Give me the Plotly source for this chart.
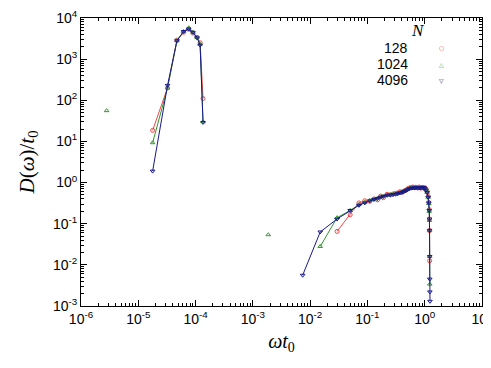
import plotly.graph_objects as go

# omega*t0 values (None separates the low-frequency peak from the main band)
w_peak = [1.78e-5, 3.24e-5, 4.73e-5, 6.17e-5, 7.59e-5, 9.0e-5, 1.06e-4, 1.20e-4, 1.35e-4]

d128_peak = [18.6, 200, 2900, 4500, 5300, 4300, 3400, 2500, 110]
d1024_peak = [9.3, 200, 2800, 4700, 5800, 4500, 3400, 2300, 30]
d4096_peak = [1.9, 230, 2800, 4700, 5400, 4500, 3300, 2200, 29]

# isolated N=1024 points
w1024_iso = [2.8e-6, 1.86e-3]
d1024_iso = [56, 0.054]

w128_band = [0.0295, 0.050, 0.071, 0.09, 0.11, 0.13, 0.15, 0.17, 0.19, 0.22, 0.25, 0.28,
             0.31, 0.34, 0.37, 0.40, 0.43, 0.46, 0.50, 0.54, 0.58, 0.62, 0.66, 0.70,
             0.75, 0.80, 0.85, 0.90, 0.95, 1.00, 1.05, 1.10, 1.15, 1.18, 1.20, 1.21,
             1.215, 1.22]
d128_band = [0.065, 0.165, 0.32, 0.36, 0.35, 0.40, 0.38, 0.47, 0.43, 0.52, 0.50, 0.53,
             0.55, 0.56, 0.60, 0.58, 0.62, 0.64, 0.70, 0.74, 0.76, 0.78, 0.75, 0.77,
             0.74, 0.78, 0.73, 0.76, 0.74, 0.75, 0.70, 0.62, 0.46, 0.33, 0.22, 0.13,
             0.068, 0.0126]

w1024_band = [0.015, 0.0295, 0.050, 0.071, 0.09, 0.11, 0.13, 0.15, 0.17, 0.19, 0.22, 0.25,
              0.28, 0.31, 0.34, 0.37, 0.40, 0.43, 0.46, 0.50, 0.54, 0.58, 0.62, 0.66,
              0.70, 0.75, 0.80, 0.85, 0.90, 0.95, 1.00, 1.05, 1.10, 1.15, 1.18, 1.20,
              1.21, 1.215, 1.22, 1.225]
d1024_band = [0.028, 0.14, 0.21, 0.29, 0.33, 0.37, 0.39, 0.42, 0.45, 0.47, 0.50, 0.51,
              0.52, 0.53, 0.55, 0.57, 0.59, 0.61, 0.64, 0.68, 0.72, 0.74, 0.75, 0.75,
              0.76, 0.75, 0.76, 0.76, 0.77, 0.76, 0.74, 0.67, 0.58, 0.44, 0.31, 0.20,
              0.12, 0.068, 0.016, 0.0034]

w4096_band = [0.0074, 0.015, 0.0295, 0.050, 0.071, 0.09, 0.11, 0.13, 0.15, 0.17, 0.19, 0.22,
              0.25, 0.28, 0.31, 0.34, 0.37, 0.40, 0.43, 0.46, 0.50, 0.54, 0.58, 0.62,
              0.66, 0.70, 0.75, 0.80, 0.85, 0.90, 0.95, 1.00, 1.05, 1.10, 1.15, 1.18,
              1.20, 1.21, 1.215, 1.22, 1.225, 1.23, 1.235]
d4096_band = [0.0056, 0.063, 0.13, 0.21, 0.28, 0.32, 0.36, 0.39, 0.41, 0.44, 0.46, 0.49,
              0.50, 0.51, 0.52, 0.54, 0.56, 0.58, 0.60, 0.63, 0.67, 0.71, 0.73, 0.74,
              0.74, 0.75, 0.74, 0.74, 0.75, 0.75, 0.76, 0.73, 0.66, 0.57, 0.44, 0.32,
              0.21, 0.13, 0.069, 0.016, 0.0045, 0.0022, 0.0013]

x_exponents = [-6, -5, -4, -3, -2, -1, 0, 1]
y_exponents = [-3, -2, -1, 0, 1, 2, 3, 4]

series = [
    ("128", w_peak + [None] + w128_band, d128_peak + [None] + d128_band,
     "rgb(240,70,70)", "circle-open", "○"),
    ("1024", w_peak + [None] + w1024_band, d1024_peak + [None] + d1024_band,
     "rgb(50,150,50)", "triangle-up-open", "△"),
    ("4096", w_peak + [None] + w4096_band, d4096_peak + [None] + d4096_band,
     "rgb(25,25,140)", "triangle-down-open", "▽"),
]

fig = go.Figure()
for name, xs, ys, col, sym, _ in series:
    fig.add_trace(go.Scatter(x=xs, y=ys, mode="lines+markers", name=name,
                             line=dict(color=col, width=1),
                             marker=dict(symbol=sym, size=4, color=col, line=dict(width=1, color=col))))
fig.add_trace(go.Scatter(x=w1024_iso, y=d1024_iso, mode="markers",
                         marker=dict(symbol="triangle-up-open", size=4, color="rgb(50,150,50)",
                                     line=dict(width=1, color="rgb(50,150,50)"))))


def power_labels(exps):
    return [10.0 ** e for e in exps], ["10<sup>%d</sup>" % e for e in exps]


axis_common = dict(type="log", showgrid=False, zeroline=False, automargin=False,
                   ticklabeloverflow="allow",
                   showline=True, linecolor="black", linewidth=1, mirror="allticks",
                   ticks="inside", ticklen=6, tickcolor="black",
                   minor=dict(ticks="inside", ticklen=3, tickcolor="black", showgrid=False,
                              dtick="D1"),
                   tickfont=dict(family="Liberation Sans, Arial", size=14, color="black"))

xv, xt = power_labels(x_exponents)
yv, yt = power_labels(y_exponents)
fig.update_xaxes(range=[-6, 1], tickvals=xv, ticktext=xt, **axis_common,
                 title=dict(text="<i>ωt</i><sub>0</sub>", standoff=8,
                            font=dict(family="Liberation Serif, serif", size=20, color="black")))
fig.update_yaxes(range=[-3, 4], tickvals=yv, ticktext=yt, **axis_common,
                 title=dict(text="<i>D</i>(<i>ω</i>)/<i>t</i><sub>0</sub>", standoff=12,
                            font=dict(family="Liberation Serif, serif", size=21, color="black")))

# gnuplot-style key: label on the left, symbol on the right
fig.add_annotation(x=0.840, y=0.955, xref="paper", yref="paper", text="<i>N</i>", showarrow=False,
                   xanchor="center", yanchor="middle",
                   font=dict(family="Liberation Serif, serif", size=17, color="black"))
for i, (name, _, _, col, _, glyph) in enumerate(series):
    yy = 0.896 - i * 0.056
    fig.add_annotation(x=0.820, y=yy, xref="paper", yref="paper", text=name, showarrow=False,
                       xanchor="right", yanchor="middle",
                       font=dict(family="Liberation Sans, Arial", size=14, color="black"))
    fig.add_annotation(x=0.898, y=yy, xref="paper", yref="paper", text=glyph, showarrow=False,
                       xanchor="center", yanchor="middle",
                       font=dict(family="DejaVu Sans", size=6, color=col))

fig.update_layout(width=491, height=368, showlegend=False,
                  plot_bgcolor="white", paper_bgcolor="white",
                  margin=dict(l=73, r=17, t=10, b=70))

fig.write_html("out.html")
